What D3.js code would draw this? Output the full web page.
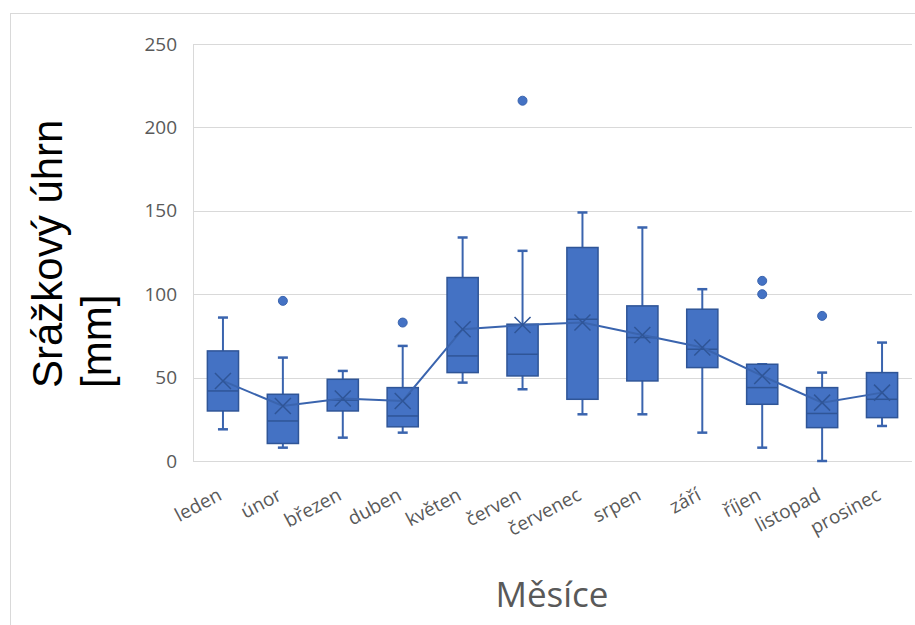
<!DOCTYPE html>
<meta charset="utf-8">
<style>
body { margin: 0; background: #fff; }
.grid line { stroke: #d9d9d9; stroke-width: 1; }
.tick-label { fill: #595959; font-family: "Open Sans", sans-serif; }
</style>
<body>
</body>
<script src="https://cdn.jsdelivr.net/npm/d3@7"></script>
<script>

// Data (mm)
var months   = ["leden", "únor", "březen", "duben", "květen", "červen", "červenec", "srpen", "září", "říjen", "listopad", "prosinec"];
var whiskLo  = [19, 8, 14, 17, 47, 43, 28, 28, 17, 8, 0, 21];
var q1       = [30, 10.5, 30, 20.5, 53, 51, 37, 48, 56, 34, 20, 26];
var median   = [42, 24, 36.5, 27, 63, 64, 85, 74, 67, 44, 28.5, 37];
var q3       = [66, 40, 49, 44, 110, 82, 128, 93, 91, 58, 44, 53];
var whiskHi  = [86, 62, 54, 69, 134, 126, 149, 140, 103, 58, 53, 71];
var means    = [48, 33, 37.5, 36, 79, 81.5, 83, 75.5, 68, 51, 35, 41];
var outliers = [[], [96], [], [83], [], [216], [], [], [], [100, 108], [87], []];
var yTicks   = [0, 50, 100, 150, 200, 250];

var width = 915, height = 625;
var plot = {left: 193, right: 912, top: 44, bottom: 461};

var rows = months.map(function(m, i) {
  return {month: m, lo: whiskLo[i], q1: q1[i], med: median[i], q3: q3[i], hi: whiskHi[i], mean: means[i], out: outliers[i]};
});

var svg = d3.select("body").append("svg")
    .attr("width", width)
    .attr("height", height);

// chart frame
svg.append("rect")
    .attr("x", 10.5).attr("y", 13.5)
    .attr("width", 940).attr("height", 640)
    .attr("fill", "none")
    .attr("stroke", "#d9d9d9");

var x = d3.scaleBand()
    .domain(months)
    .range([plot.left, plot.right]);

var y = d3.scaleLinear()
    .domain([0, 250])
    .range([plot.bottom, plot.top]);

// gridlines
var grid = svg.append("g").attr("class", "grid");
grid.selectAll("line")
  .data(yTicks)
  .enter().append("line")
    .attr("x1", plot.left)
    .attr("x2", plot.right)
    .attr("y1", function(d) { return Math.round(y(d)) + 0.5; })
    .attr("y2", function(d) { return Math.round(y(d)) + 0.5; });
grid.append("line")
    .attr("x1", plot.left + 0.5).attr("x2", plot.left + 0.5)
    .attr("y1", y(250)).attr("y2", y(0));

// y tick labels
svg.append("g").selectAll("text")
  .data(yTicks)
  .enter().append("text")
    .attr("class", "tick-label")
    .attr("x", 177)
    .attr("y", function(d) { return y(d); })
    .attr("dy", "0.35em")
    .attr("text-anchor", "end")
    .attr("font-size", 19)
    .text(function(d) { return d; });

// x tick labels, rotated
svg.append("g").selectAll("text")
  .data(months)
  .enter().append("text")
    .attr("class", "tick-label")
    .attr("font-size", 19)
    .attr("text-anchor", "end")
    .attr("transform", function(d) {
      return "translate(" + (x(d) + x.bandwidth() / 2) + "," + 499 + ") rotate(-28)";
    })
    .text(function(d) { return d; });

var boxW = x.bandwidth() * 0.52;
var capW = 10;
var dark = "#2f5597";
var blue = "#4472c4";

var box = svg.append("g").selectAll("g")
  .data(rows)
  .enter().append("g")
    .attr("transform", function(d) { return "translate(" + (x(d.month) + x.bandwidth() / 2) + ",0)"; });

// whiskers
box.append("line")
    .attr("x1", 0).attr("x2", 0)
    .attr("y1", function(d) { return y(d.hi); })
    .attr("y2", function(d) { return y(d.lo); })
    .attr("stroke", "#3a64ae").attr("stroke-width", 2);
box.append("line")
    .attr("x1", -capW / 2).attr("x2", capW / 2)
    .attr("y1", function(d) { return y(d.hi); })
    .attr("y2", function(d) { return y(d.hi); })
    .attr("stroke", "#3a64ae").attr("stroke-width", 2.5);
box.append("line")
    .attr("x1", -capW / 2).attr("x2", capW / 2)
    .attr("y1", function(d) { return y(d.lo); })
    .attr("y2", function(d) { return y(d.lo); })
    .attr("stroke", "#3a64ae").attr("stroke-width", 2.5);

// box
box.append("rect")
    .attr("x", -boxW / 2)
    .attr("width", boxW)
    .attr("y", function(d) { return y(d.q3); })
    .attr("height", function(d) { return y(d.q1) - y(d.q3); })
    .attr("fill", blue)
    .attr("stroke", dark)
    .attr("stroke-width", 1.5);

// median
box.append("line")
    .attr("x1", -boxW / 2).attr("x2", boxW / 2)
    .attr("y1", function(d) { return y(d.med); })
    .attr("y2", function(d) { return y(d.med); })
    .attr("stroke", dark).attr("stroke-width", 1.5);

// outliers
box.selectAll("circle")
  .data(function(d) { return d.out; })
  .enter().append("circle")
    .attr("cx", 0)
    .attr("cy", function(d) { return y(d); })
    .attr("r", 4.5)
    .attr("fill", blue)
    .attr("stroke", "#3a64ae");

// mean line
var line = d3.line()
    .x(function(d) { return x(d.month) + x.bandwidth() / 2; })
    .y(function(d) { return y(d.mean); });
svg.append("path")
    .datum(rows)
    .attr("d", line)
    .attr("fill", "none")
    .attr("stroke", "#3a64ae")
    .attr("stroke-width", 2);

// mean markers (X)
var s = 8;
svg.append("g").selectAll("path")
  .data(rows)
  .enter().append("path")
    .attr("transform", function(d) { return "translate(" + (x(d.month) + x.bandwidth() / 2) + "," + y(d.mean) + ")"; })
    .attr("d", "M" + -s + "," + -s + "L" + s + "," + s + "M" + -s + "," + s + "L" + s + "," + -s)
    .attr("stroke", dark)
    .attr("stroke-width", 1.5)
    .attr("fill", "none");

// axis titles
var yTitle = svg.append("text")
    .attr("transform", "translate(0,388) rotate(-90)")
    .attr("font-family", "'Liberation Sans', Arial, sans-serif")
    .attr("font-size", 42)
    .attr("fill", "#000");
yTitle.append("tspan").attr("x", 0).attr("y", 62).text("Srážkový úhrn");
yTitle.append("tspan").attr("x", 0).attr("y", 111).text("[mm]");

svg.append("text")
    .attr("x", 552)
    .attr("y", 607)
    .attr("text-anchor", "middle")
    .attr("font-family", "'Open Sans', sans-serif")
    .attr("font-size", 35)
    .attr("fill", "#595959")
    .text("Měsíce");

</script>
